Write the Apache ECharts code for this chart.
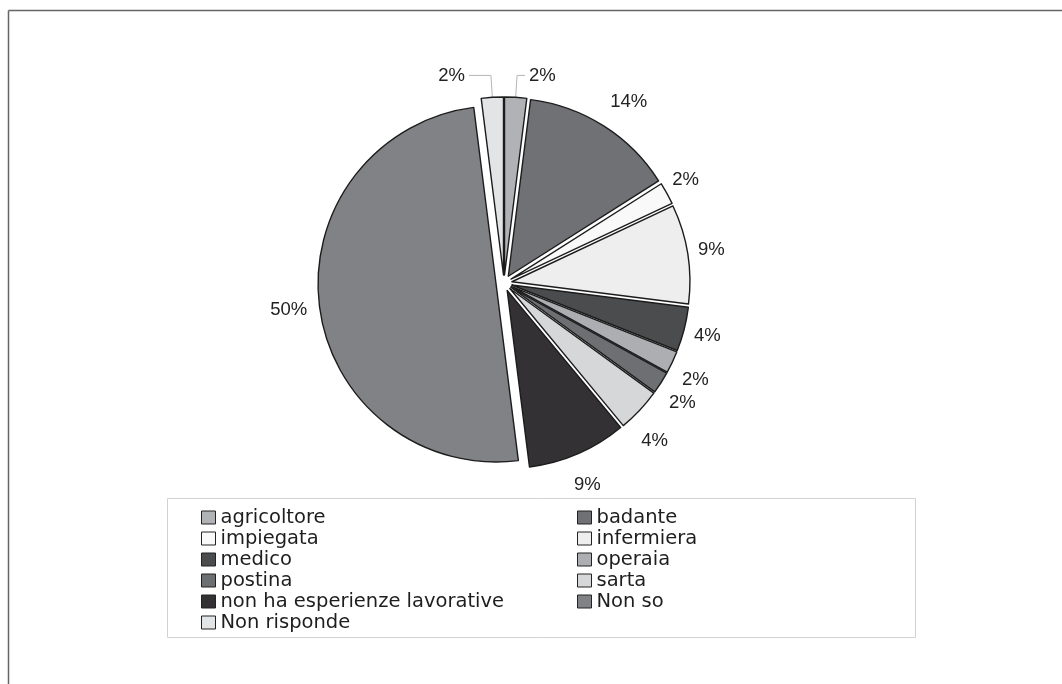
<!DOCTYPE html>
<html>
<head>
<meta charset="utf-8">
<script src="https://cdn.jsdelivr.net/npm/echarts@6/dist/echarts.min.js"></script>
<style>
  html, body { margin: 0; padding: 0; background: #fff; }
  #chart { width: 1062px; height: 684px; }
</style>
</head>
<body>
<div id="chart"></div>
<script>
// Professioni (percentuali), in senso orario dalle ore 12
const categories = [
  'agricoltore', 'badante', 'impiegata', 'infermiera', 'medico', 'operaia',
  'postina', 'sarta', 'non ha esperienze lavorative', 'Non so', 'Non risponde'
];
const values = [2, 14, 2, 9, 4, 2, 2, 4, 9, 50, 2];
const colors = [
  '#b1b2b5', '#707175', '#f9f9f9', '#eeeeee', '#4b4c4e', '#adaeb1',
  '#6e6f72', '#d6d7d9', '#333133', '#818285', '#e3e4e6'
];
// Legenda su due colonne
const legendLeft = ['agricoltore', 'impiegata', 'medico', 'postina', 'non ha esperienze lavorative', 'Non risponde'];
const legendRight = ['badante', 'infermiera', 'operaia', 'sarta', 'Non so'];

const LABEL_FONT = '"Liberation Sans", Arial, sans-serif';
const LABEL_SIZE = 18.5;

// Ritocchi della distanza delle etichette: [allungamento radiale, spostamento orizzontale]
const labelNudge = {
  'badante': [0, 10],
  'impiegata': [0, -6],
  'infermiera': [0, -4],
  'medico': [0, -4],
  'operaia': [14, -15],
  'postina': [9, -10],
  'sarta': [16, -17],
  'non ha esperienze lavorative': [6, -4],
  'Non so': [0, 3]
};

const chart = echarts.init(document.getElementById('chart'), null, { renderer: 'canvas' });

// Larghezza del testo dell'etichetta, per centrarla sulla bisettrice della fetta
function textWidth(str) {
  return echarts.format.getTextRect
    ? echarts.format.getTextRect(str, LABEL_SIZE + 'px ' + LABEL_FONT).width
    : str.length * LABEL_SIZE * 0.5;
}

const data = categories.map((name, i) => {
  const item = {
    name: name,
    value: values[i],
    selected: true,
    itemStyle: { color: colors[i] }
  };
  if (name === 'agricoltore') {
    item.labelLine = { show: true, length: 22, length2: 8, lineStyle: { color: '#b5b5b5', width: 1 } };
    item.label = { distanceToLabelLine: 4 };
  } else if (name === 'Non risponde') {
    item.labelLine = { show: true, length: 22, length2: 22, lineStyle: { color: '#b5b5b5', width: 1 } };
    item.label = { distanceToLabelLine: 4 };
  } else {
    const w = textWidth(values[i] + '%');
    const nudge = labelNudge[name] || [0, 0];
    item.labelLine = { show: false, length: 28 + nudge[0], length2: -w / 2 + nudge[1] };
    item.label = { distanceToLabelLine: 0 };
  }
  return item;
});

const legendCommon = {
  orient: 'vertical',
  icon: 'rect',
  itemWidth: 14,
  itemHeight: 13,
  itemGap: 0,
  padding: 0,
  selectedMode: false,
  itemStyle: { borderColor: '#222', borderWidth: 1 },
  textStyle: {
    fontFamily: '"DejaVu Sans", sans-serif',
    fontSize: 19.5,
    lineHeight: 21,
    color: '#1e1e1e'
  }
};

const option = {
  animation: false,
  backgroundColor: '#ffffff',
  legend: [
    Object.assign({}, legendCommon, { left: 201, top: 507, data: legendLeft }),
    Object.assign({}, legendCommon, { left: 577, top: 507, data: legendRight })
  ],
  graphic: [
    { type: 'line', shape: { x1: 8.5, y1: 10.5, x2: 1062, y2: 10.5 }, style: { stroke: '#666', lineWidth: 1.5 } },
    { type: 'line', shape: { x1: 8.5, y1: 10.5, x2: 8.5, y2: 684 }, style: { stroke: '#666', lineWidth: 1.5 } },
    { type: 'rect', shape: { x: 167.5, y: 498.5, width: 748, height: 139 }, style: { fill: 'none', stroke: '#d2d2d2', lineWidth: 1 }, z: -1 }
  ],
  series: [{
    type: 'pie',
    center: [504, 283],
    radius: [0, 178],
    startAngle: 90,
    clockwise: true,
    selectedMode: 'multiple',
    selectedOffset: 8,
    avoidLabelOverlap: false,
    itemStyle: { borderColor: '#1c1c1c', borderWidth: 1.4 },
    label: {
      show: true,
      position: 'outside',
      formatter: '{c}%',
      fontFamily: LABEL_FONT,
      fontSize: LABEL_SIZE,
      color: '#222'
    },
    emphasis: { disabled: true },
    data: data
  }]
};

chart.setOption(option);
</script>
</body>
</html>
